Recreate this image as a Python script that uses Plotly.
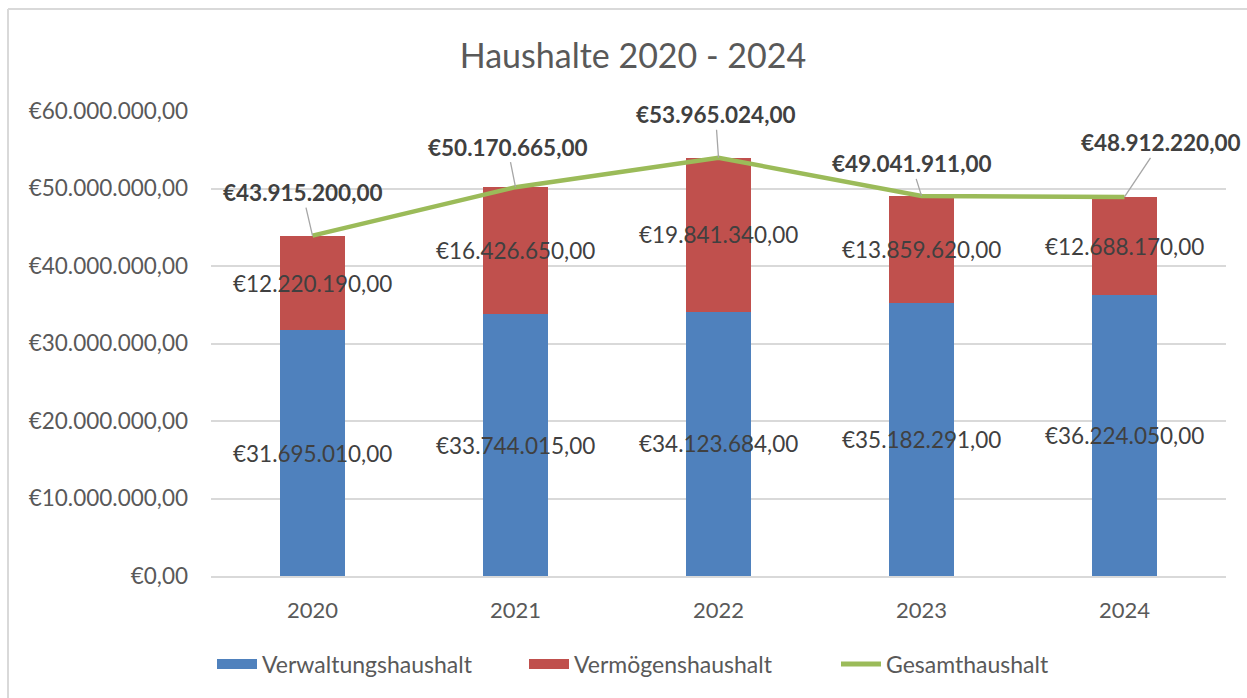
import plotly.graph_objects as go

years = ["2020", "2021", "2022", "2023", "2024"]
verwaltung = [31695010, 33744015, 34123684, 35182291, 36224050]
vermoegen = [12220190, 16426650, 19841340, 13859620, 12688170]
gesamt = [43915200, 50170665, 53965024, 49041911, 48912220]
y_ticks = [0, 10000000, 20000000, 30000000, 40000000, 50000000, 60000000]

FONT = "Lato"
BLUE = "#4F81BD"
RED = "#C0504D"
GREEN = "#9BBB59"
LBL = 22.5


def eur(v):
    s = f"{v:,.2f}"
    s = s.replace(",", "X").replace(".", ",").replace("X", ".")
    return "€" + s


fig = go.Figure()
fig.add_trace(go.Bar(x=years, y=verwaltung, name="Verwaltungshaushalt", showlegend=False,
                     marker=dict(color=BLUE, line=dict(width=0))))
fig.add_trace(go.Bar(x=years, y=vermoegen, name="Vermögenshaushalt", showlegend=False,
                     marker=dict(color=RED, line=dict(width=0))))
fig.add_trace(go.Scatter(x=years, y=gesamt, name="Gesamthaushalt", mode="lines", showlegend=False,
                         line=dict(color=GREEN, width=4.5)))
# legend entries (wide colour keys like the original)
for name, col, w in [("Verwaltungshaushalt", BLUE, 13), ("Vermögenshaushalt", RED, 13),
                     ("Gesamthaushalt", GREEN, 5)]:
    fig.add_trace(go.Scatter(x=[None], y=[None], name=name, mode="lines",
                             line=dict(color=col, width=w)))

annotations = []
for i, yr in enumerate(years):
    annotations.append(dict(x=i, y=verwaltung[i] / 2, text=eur(verwaltung[i]),
                            showarrow=False, font=dict(family=FONT, size=LBL, color="#404040")))
    annotations.append(dict(x=i, y=verwaltung[i] + vermoegen[i] / 2, text=eur(vermoegen[i]),
                            showarrow=False, font=dict(family=FONT, size=LBL, color="#404040")))

offsets = [(-10, -43), (-8, -40), (-3, -43), (-10, -32), (36, -54)]
for i, yr in enumerate(years):
    ax, ay = offsets[i]
    annotations.append(dict(x=i, y=gesamt[i], text="<b>" + eur(gesamt[i]) + "</b>",
                            showarrow=True, arrowhead=0, arrowwidth=1.3, arrowcolor="#a6a6a6",
                            standoff=0, ax=ax, ay=ay,
                            font=dict(family=FONT, size=LBL, color="#404040")))

L, R, T, B = 211, 21, 111, 122
W, H = 1247, 698
pw, ph = W - L - R, H - T - B


def px_x(p):
    return (p - L) / pw


def px_y(p):
    return (H - B - p) / ph


shapes = [
    dict(type="line", xref="paper", yref="paper", x0=px_x(8), x1=px_x(W + 5),
         y0=px_y(9), y1=px_y(9), line=dict(color="#d9d9d9", width=2)),
    dict(type="line", xref="paper", yref="paper", x0=px_x(8), x1=px_x(8),
         y0=px_y(9), y1=px_y(H + 5), line=dict(color="#d9d9d9", width=2)),
]

fig.update_layout(
    width=W, height=H,
    barmode="stack", bargap=0.684,
    plot_bgcolor="white", paper_bgcolor="white",
    margin=dict(l=L, r=R, t=T, b=B),
    title=dict(text="Haushalte 2020 - 2024", x=633 / W, xref="container", xanchor="center",
               y=1 - 56 / H, yref="container", yanchor="middle",
               font=dict(family=FONT, size=34, color="#595959")),
    font=dict(family=FONT, color="#595959"),
    xaxis=dict(type="category", range=[-0.5, 4.5], showgrid=False, showline=True,
               linecolor="#d9d9d9", linewidth=2,
               ticks="", tickfont=dict(family=FONT, size=22, color="#595959"),
               ticklabelstandoff=14, zeroline=False),
    yaxis=dict(range=[0, 60000000], tickvals=y_ticks, ticktext=[eur(v) for v in y_ticks],
               showgrid=True, gridcolor="#d9d9d9", gridwidth=2, zeroline=False,
               ticks="", tickfont=dict(family=FONT, size=LBL, color="#595959"),
               ticklabelstandoff=22),
    legend=dict(orientation="h", xref="container", yref="container", x=212 / W, xanchor="left",
                y=1 - 664 / H, yanchor="middle", font=dict(family=FONT, size=23, color="#595959"),
                itemwidth=40, traceorder="normal", entrywidth=257, entrywidthmode="pixels"),
    annotations=annotations,
    shapes=shapes,
)

fig.write_html("out.html", post_script="document.body.style.margin='0px';",
               config={"displayModeBar": False})
